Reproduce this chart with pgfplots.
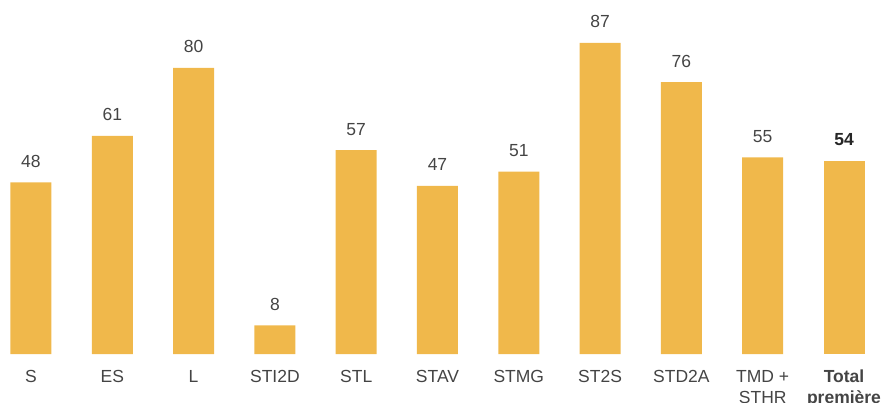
\documentclass[border=0pt]{standalone}
\usepackage{pgfplots}
\pgfplotsset{compat=1.18}
\usepackage{fontspec}
\setmainfont{Liberation Sans}
\definecolor{barc}{HTML}{F0B84B}
\definecolor{txt}{HTML}{444444}
\begin{document}
\begin{tikzpicture}
\begin{axis}[
  name=ax,
  scale only axis,
  width=884pt, height=354pt,
  xmin=-0.381, xmax=10.492,
  ymin=0, ymax=99,
  /pgf/number format/assume math mode=true,
  axis x line*=bottom,
  hide y axis,
  x axis line style={draw=none},
  ybar, bar width=41pt, bar shift=0pt,
  xtick={0,...,10},
  xticklabels={S,ES,L,STI2D,STL,STAV,STMG,ST2S,STD2A,{TMD +\\STHR},{\textbf{Total}\\\textbf{première}}},
  xticklabel style={font=\fontsize{17.5}{21}\selectfont, text=txt, align=center, inner sep=0pt, anchor=north, yshift=-16pt},
  xtick style={draw=none},
  major tick length=0pt,
  nodes near coords,
  nodes near coords style={font=\fontsize{17.5}{21}\selectfont, text=txt, inner sep=0pt, anchor=base, yshift=15pt},
]
\addplot[fill=barc, draw=none] coordinates {(0,48) (1,61) (2,80) (3,8) (4,57) (5,47) (6,51) (7,87) (8,76) (9,55)};
\addplot[fill=barc, draw=none, nodes near coords style={font=\bfseries\fontsize{17.5}{21}\selectfont, text=black!85}] coordinates {(10,54)};
\end{axis}
\pgfresetboundingbox
\path[use as bounding box] (ax.south west) ++(0,-48pt) rectangle (ax.north east);
\end{tikzpicture}
\end{document}
